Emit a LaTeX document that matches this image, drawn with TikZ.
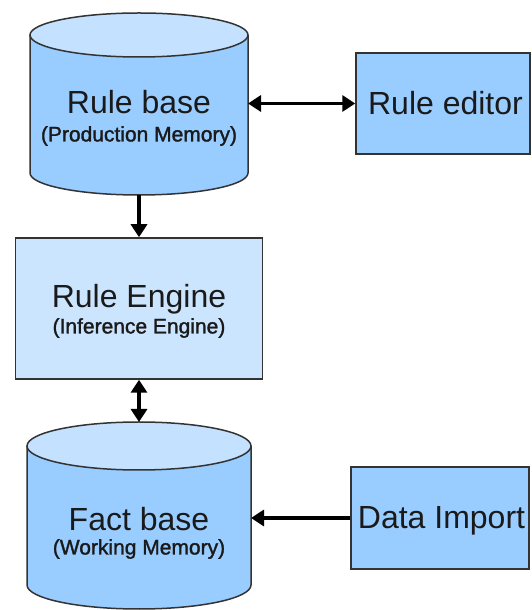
\documentclass[tikz,border=0pt]{standalone}
\usepackage{fontspec}
\setmainfont{Liberation Sans}
\newfontfamily\subfont[FakeBold=1.5]{Liberation Sans}
\usetikzlibrary{arrows.meta}
\definecolor{bodyblue}{HTML}{99CCFF}
\definecolor{topblue}{HTML}{C4E1FF}
\definecolor{paleblue}{HTML}{CCE5FF}
\definecolor{edge}{HTML}{333333}
\definecolor{ink}{HTML}{1A1A1A}
\tikzset{
  outline/.style={draw=edge, line width=1.5pt},
  box/.style={outline, fill=bodyblue, inner sep=0pt},
  ghost/.style={inner sep=0pt, outer sep=0pt},
  title/.style={inner sep=0pt, text=ink, font=\fontsize{32}{38}\selectfont},
  subtitle/.style={inner sep=0pt, text=ink,
    font=\subfont\fontsize{21}{25}\selectfont},
  tip/.tip={Triangle[length=13pt,width=16pt]},
  link/.style={line width=3.6pt, -tip},
  duallink/.style={line width=3.6pt, tip-tip},
}
% database cylinder: centre x, half width, top ellipse centre y, bottom ellipse centre y, ellipse y radius
\newcommand\dbcylinder[5]{%
  \fill[bodyblue] ({#1-#2},#3) -- ({#1-#2},#4)
    arc[start angle=180, end angle=360, x radius=#2, y radius=#5] -- ({#1+#2},#3) -- cycle;
  \draw[outline] ({#1-#2},#3) -- ({#1-#2},#4)
    arc[start angle=180, end angle=360, x radius=#2, y radius=#5] -- ({#1+#2},#3);
  \draw[outline, fill=topblue] (#1,#3) ellipse[x radius=#2, y radius=#5];
}
\begin{document}
\begin{tikzpicture}[x=1pt, y=1pt]
  \useasboundingbox (0,0) rectangle (531,610);

  % rule base cylinder
  \dbcylinder{139}{109}{575}{437}{22}
  \node[ghost, minimum width=218pt, minimum height=182pt] (rb) at (139,506) {};
  \node[title] (rbt) at (139,507.5) {Rule base};
  \node[subtitle] (rbs) at (139,474) {(Production Memory)};

  % rule editor
  \node[box, minimum width=174pt, minimum height=101pt] (ed) at (443,506.5) {};
  \node[title] (edt) at (445.5,507) {Rule editor};

  % rule engine
  \node[outline, fill=paleblue, inner sep=0pt, minimum width=247pt, minimum height=141pt] (re) at (139,301.5) {};
  \node[title] (ret) at (139,311) {Rule Engine};
  \node[subtitle] (res) at (139,282) {(Inference Engine)};

  % fact base cylinder
  \dbcylinder{139}{112}{164}{25}{24}
  \node[ghost, minimum width=224pt, minimum height=187pt] (fb) at (139,94.5) {};
  \node[title] (fbt) at (139,91) {Fact base};
  \node[subtitle] (fbs) at (139,61) {(Working Memory)};

  % data import
  \node[box, minimum width=178pt, minimum height=102pt] (di) at (440,92) {};
  \node[title] (dit) at (441.5,89) {Data Import};

  % connectors
  \draw[duallink] (ed.west -| rb.east) -- (ed.west);
  \draw[link] (rb.south) -- (re.north);
  \draw[duallink] (re.south) -- (fb.north);
  \draw[link] (di.west) -- (di.west -| fb.east);
\end{tikzpicture}
\end{document}
